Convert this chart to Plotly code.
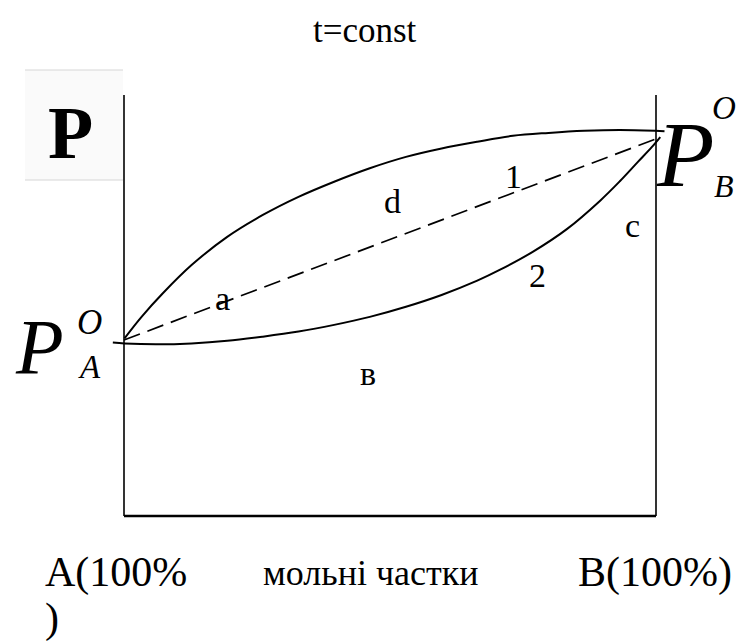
import plotly.graph_objects as go

# ---- data (mole fraction of B, relative pressure; axis 0..1 = bottom..top of frame) ----
x_upper = [0.001, 0.033, 0.073, 0.127, 0.194, 0.261, 0.328, 0.395, 0.462, 0.530,
           0.597, 0.664, 0.731, 0.798, 0.865, 0.932, 0.999, 1.016]
p_upper = [0.422, 0.473, 0.529, 0.596, 0.663, 0.715, 0.758, 0.794, 0.826, 0.853,
           0.873, 0.889, 0.903, 0.910, 0.915, 0.917, 0.915, 0.914]

x_lower = [-0.021, 0.001, 0.060, 0.127, 0.194, 0.261, 0.328, 0.395, 0.462, 0.530,
           0.597, 0.664, 0.707, 0.769, 0.833, 0.895, 0.932, 0.966, 0.992, 1.008]
p_lower = [0.412, 0.410, 0.408, 0.410, 0.416, 0.426, 0.438, 0.454, 0.473, 0.497,
           0.525, 0.559, 0.585, 0.628, 0.682, 0.749, 0.795, 0.841, 0.876, 0.900]

x_ideal = [0.0, 1.009]
p_ideal = [0.418, 0.900]

region_labels = ["a", "d", "1", "c", "2", "в"]
bottom_labels = ["A(100%", ")", "мольні частки", "B(100%)"]
title_text = "t=const"

# ---- layout geometry (pixels) ----
W, H = 738, 641
L, R, T, B = 100, 38, 60, 111
FX0, FX1, FY0, FY1 = 124, 656, 516, 95  # frame in pixels


def dx(px):
    return (px - FX0) / (FX1 - FX0)


def dy(py):
    return (FY0 - py) / (FY0 - FY1)


def paper_x(px):
    return (px - L) / (W - L - R)


def paper_y(py):
    return (H - B - py) / (H - T - B)


xr = [dx(L), dx(W - R)]
yr = [dy(H - B), dy(T)]

fig = go.Figure()
line_col = "#000000"
fig.add_trace(go.Scatter(x=x_upper, y=p_upper, mode="lines",
                         line=dict(color=line_col, width=2.0, shape="spline", smoothing=1.0), hoverinfo="skip"))
fig.add_trace(go.Scatter(x=x_lower, y=p_lower, mode="lines",
                         line=dict(color=line_col, width=2.0, shape="spline", smoothing=1.0), hoverinfo="skip"))
fig.add_trace(go.Scatter(x=x_ideal, y=p_ideal, mode="lines",
                         line=dict(color=line_col, width=1.7, dash="17px,8px"), hoverinfo="skip"))

shapes = [
    dict(type="line", x0=0, x1=0, y0=0, y1=1, line=dict(color="black", width=1.6)),
    dict(type="line", x0=1, x1=1, y0=0, y1=1, line=dict(color="black", width=1.6)),
    dict(type="line", x0=0, x1=1, y0=0, y1=0, line=dict(color="black", width=2.6)),
    dict(type="rect", xref="paper", yref="paper", x0=paper_x(25), x1=paper_x(123),
         y0=paper_y(180), y1=paper_y(70), fillcolor="#fafafa", line=dict(width=0), layer="below"),
    dict(type="line", xref="paper", yref="paper", x0=paper_x(25), x1=paper_x(123),
         y0=paper_y(70), y1=paper_y(70), line=dict(color="#d6d6d6", width=1)),
    dict(type="line", xref="paper", yref="paper", x0=paper_x(25), x1=paper_x(123),
         y0=paper_y(180), y1=paper_y(180), line=dict(color="#d6d6d6", width=1)),
]

serif = "Liberation Serif"
ann = []


def add(text, px, py, size, italic=False, bold=False):
    t = text
    if bold:
        t = "<b>" + t + "</b>"
    if italic:
        t = "<i>" + t + "</i>"
    ann.append(dict(x=paper_x(px), y=paper_y(py), xref="paper", yref="paper", text=t, showarrow=False,
                    xanchor="center", yanchor="middle", borderpad=0,
                    font=dict(family=serif, size=size, color="black")))


add(title_text, 365, 30, 35)
region_pos = [(222, 298), (392, 201), (513, 176), (632, 225), (537, 275), (368, 373)]
for lab, (px, py) in zip(region_labels, region_pos):
    add(lab, px, py, 34)

# bold P (axis label)
add("P", 70, 133, 74, bold=True)
# P_A^O
add("P", 39, 347, 78, italic=True)
add("O", 89, 322, 35, italic=True)
add("A", 89, 367, 33, italic=True)
# P_B^O
add("P", 685, 154, 94, italic=True)
add("O", 724, 108, 33, italic=True)
add("B", 724, 186, 32, italic=True)

bottom_pos = [(116, 572, 42), (52, 618, 42), (371, 573, 36), (655, 572, 42)]
for lab, (px, py, s) in zip(bottom_labels, bottom_pos):
    add(lab, px, py, s)

fig.update_layout(
    width=W, height=H, autosize=False,
    margin=dict(l=L, r=R, t=T, b=B),
    paper_bgcolor="white", plot_bgcolor="white",
    showlegend=False,
    xaxis=dict(range=xr, visible=False, fixedrange=True),
    yaxis=dict(range=yr, visible=False, fixedrange=True),
    shapes=shapes, annotations=ann,
)

fig.write_html("out.html", config={"displayModeBar": False},
               post_script="document.body.style.margin='0px';")
